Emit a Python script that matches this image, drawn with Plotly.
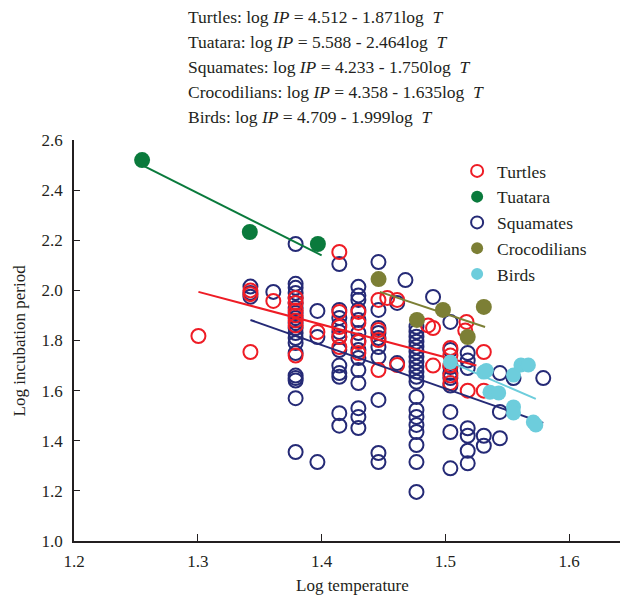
import plotly.graph_objects as go

# ---- data ----
turtles_x = [1.3005, 1.3425, 1.3425, 1.3425, 1.361,
             1.379, 1.379, 1.379, 1.379, 1.379, 1.379, 1.379,
             1.3966,
             1.4143, 1.4143, 1.4143, 1.4143, 1.4143,
             1.4297, 1.4297, 1.4297, 1.4297,
             1.4459, 1.4459, 1.4459, 1.4459,
             1.453, 1.461, 1.461,
             1.486, 1.490, 1.490,
             1.504, 1.504, 1.504, 1.504, 1.504,
             1.517, 1.516, 1.518,
             1.531, 1.531]
turtles_y = [1.818, 1.754, 2.0, 1.985, 1.958,
             1.97, 1.95, 1.92, 1.90, 1.88, 1.86, 1.74,
             1.834,
             2.153, 1.914, 1.854, 1.814, 1.774,
             1.914, 1.87, 1.794, 1.75,
             1.962, 1.842, 1.802, 1.682,
             1.97, 1.962, 1.702,
             1.86, 1.85, 1.70,
             1.77, 1.74, 1.70, 1.66, 1.63,
             1.874, 1.84, 1.60,
             1.754, 1.60]

tuatara_x = [1.255, 1.342, 1.397]
tuatara_y = [2.52, 2.233, 2.185]

squamates_x = ([1.3425] * 3 + [1.361] +
               [1.379] * 20 +
               [1.3966] * 3 +
               [1.4143] * 12 +
               [1.4297] * 14 +
               [1.4459] * 10 +
               [1.461] * 2 + [1.4677] +
               [1.4766] * 20 +
               [1.490] +
               [1.504] * 9 +
               [1.518] * 7 +
               [1.531] * 2 +
               [1.544] * 3 +
               [1.555, 1.579])
squamates_y = ([2.015, 1.99, 1.975] + [1.994] +
               [2.185, 2.026, 2.01, 1.99, 1.97, 1.95, 1.93, 1.91, 1.89, 1.87,
                1.85, 1.83, 1.81, 1.79, 1.75, 1.66, 1.65, 1.64, 1.57, 1.355] +
               [1.918, 1.814, 1.315] +
               [2.105, 1.922, 1.89, 1.862, 1.834, 1.814, 1.762, 1.70, 1.67, 1.655, 1.51, 1.46] +
               [2.014, 1.98, 1.962, 1.922, 1.882, 1.83, 1.80, 1.762, 1.73, 1.682,
                1.63, 1.53, 1.495, 1.451] +
               [2.113, 1.922, 1.85, 1.83, 1.81, 1.774, 1.734, 1.563, 1.351, 1.315] +
               [1.95, 1.71] + [2.041] +
               [1.855, 1.835, 1.815, 1.795, 1.775, 1.755, 1.735, 1.715, 1.695, 1.675,
                1.655, 1.635, 1.575, 1.523, 1.495, 1.463, 1.435, 1.383, 1.315, 1.196] +
               [1.974] +
               [1.874, 1.762, 1.694, 1.67, 1.65, 1.62, 1.515, 1.435, 1.29] +
               [1.75, 1.72, 1.69, 1.45, 1.42, 1.36, 1.31] +
               [1.42, 1.38] +
               [1.67, 1.515, 1.41] +
               [1.65, 1.65])

croc_x = [1.446, 1.477, 1.498, 1.531, 1.518]
croc_y = [2.045, 1.882, 1.922, 1.934, 1.814]

birds_x = [1.504, 1.531, 1.533, 1.536, 1.543, 1.555, 1.555, 1.555,
           1.561, 1.567, 1.571, 1.573]
birds_y = [1.714, 1.674, 1.68, 1.594, 1.591, 1.662, 1.535, 1.511,
           1.702, 1.702, 1.475, 1.463]

# fitted regression segments (endpoints as drawn)
turtles_fit_x, turtles_fit_y = [1.3005, 1.525], [1.994, 1.70]
tuatara_fit_x, tuatara_fit_y = [1.255, 1.40], [2.50, 2.14]
squamates_fit_x, squamates_fit_y = [1.3425, 1.579], [1.882, 1.471]
croc_fit_x, croc_fit_y = [1.447, 1.532], [1.994, 1.854]
birds_fit_x, birds_fit_y = [1.504, 1.573], [1.714, 1.567]

equations = [
    "Turtles: log <i>IP</i> = 4.512 - 1.871log&nbsp;&nbsp;<i>T</i>",
    "Tuatara: log <i>IP</i> = 5.588 - 2.464log&nbsp;&nbsp;<i>T</i>",
    "Squamates: log <i>IP</i> = 4.233 - 1.750log&nbsp;&nbsp;<i>T</i>",
    "Crocodilians: log <i>IP</i> = 4.358 - 1.635log&nbsp;&nbsp;<i>T</i>",
    "Birds: log <i>IP</i> = 4.709 - 1.999log&nbsp;&nbsp;<i>T</i>",
]

x_ticks = [1.2, 1.3, 1.4, 1.5, 1.6]
y_ticks = [1.0, 1.2, 1.4, 1.6, 1.8, 2.0, 2.2, 2.4, 2.6]

# ---- styles ----
RED = "#ee1c25"
GREEN = "#0a7a3c"
NAVY = "#252a76"
OLIVE = "#7c7f35"
CYAN = "#6dcddc"
FONT = "Liberation Serif"
TXT = "#231f20"
FS = 17

L, R, T, B = 73.6, 620.0, 140.0, 541.0
PW, PH = R - L, B - T

def px_x(px):
    return (px - L) / PW

def px_y(py):
    return (B - py) / PH

fig = go.Figure()

def open_pts(x, y, color, name, rank):
    return go.Scatter(x=x, y=y, mode="markers", name=name, legendrank=rank,
                      marker=dict(symbol="circle-open", size=14, color=color,
                                  line=dict(width=2, color=color)))

def filled_pts(x, y, color, name, rank, size=16):
    return go.Scatter(x=x, y=y, mode="markers", name=name, legendrank=rank,
                      marker=dict(symbol="circle", size=size, color=color,
                                  line=dict(width=0)))

def fit(x, y, color):
    return go.Scatter(x=x, y=y, mode="lines", showlegend=False, hoverinfo="skip",
                      line=dict(color=color, width=2))

fig.add_trace(open_pts(squamates_x, squamates_y, NAVY, "Squamates", 3))
fig.add_trace(open_pts(turtles_x, turtles_y, RED, "Turtles", 1))
fig.add_trace(fit(turtles_fit_x, turtles_fit_y, RED))
fig.add_trace(fit(squamates_fit_x, squamates_fit_y, NAVY))
fig.add_trace(fit(tuatara_fit_x, tuatara_fit_y, GREEN))
fig.add_trace(fit(croc_fit_x, croc_fit_y, OLIVE))
fig.add_trace(filled_pts(tuatara_x, tuatara_y, GREEN, "Tuatara", 2, 16))
fig.add_trace(filled_pts(croc_x, croc_y, OLIVE, "Crocodilians", 4, 16))
fig.add_trace(filled_pts(birds_x, birds_y, CYAN, "Birds", 5, 15))
fig.add_trace(fit(birds_fit_x, birds_fit_y, CYAN))

annotations = []
for i, t in enumerate(equations):
    py = 17 + 25 * i
    annotations.append(dict(
        text=t, xref="paper", yref="paper",
        x=px_x(186), y=px_y(py),
        xanchor="left", yanchor="middle", showarrow=False,
        font=dict(family=FONT, size=17.5, color=TXT)))

# axis titles
annotations.append(dict(text="Log temperature", xref="paper", yref="paper",
                        x=px_x(352), y=px_y(585), xanchor="center", yanchor="middle",
                        showarrow=False, font=dict(family=FONT, size=FS, color=TXT)))
annotations.append(dict(text="Log incubation period", xref="paper", yref="paper",
                        x=px_x(19), y=px_y(340), xanchor="center", yanchor="middle",
                        textangle=-90, showarrow=False,
                        font=dict(family=FONT, size=FS, color=TXT)))

fig.update_layout(
    width=627, height=598,
    margin=dict(l=L, r=627 - R, t=T, b=598 - B, autoexpand=False),
    paper_bgcolor="white", plot_bgcolor="white",
    font=dict(family=FONT, size=FS, color=TXT),
    showlegend=True,
    legend=dict(x=px_x(457), y=px_y(153),
                xanchor="left", yanchor="top",
                font=dict(family=FONT, size=17.5, color=TXT),
                bgcolor="rgba(0,0,0,0)", itemsizing="constant",
                tracegroupgap=0, itemwidth=30),
    annotations=annotations,
    xaxis=dict(range=[1.2, 1.641], tickvals=x_ticks, tickformat=".1f",
               ticks="inside", ticklen=7, tickcolor=TXT, automargin=False,
               ticklabelstandoff=4,
               showline=True, linecolor=TXT, linewidth=1.5,
               showgrid=False, zeroline=False,
               tickfont=dict(family=FONT, size=FS, color=TXT)),
    yaxis=dict(range=[1.0, 2.6], tickvals=y_ticks, tickformat=".1f",
               ticks="inside", ticklen=6, tickcolor=TXT, automargin=False,
               ticklabelstandoff=6,
               showline=True, linecolor=TXT, linewidth=1.5,
               showgrid=False, zeroline=False,
               tickfont=dict(family=FONT, size=FS, color=TXT)),
)

fig.write_html("out.html", config={"displayModeBar": False},
               post_script="document.body.style.margin='0';document.body.style.overflow='hidden';")
